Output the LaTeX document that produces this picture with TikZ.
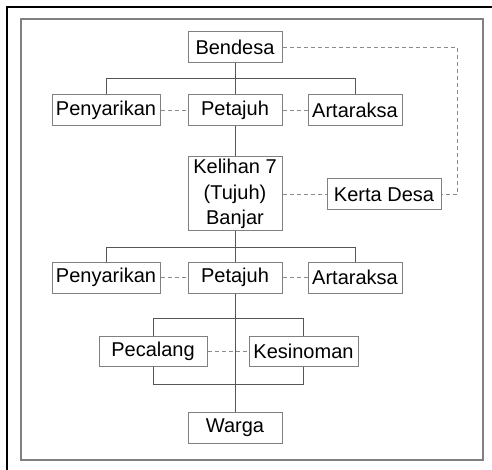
\documentclass[tikz,border=0pt]{standalone}
\usepackage{fontspec}
\setmainfont{Liberation Sans}
\begin{document}
\begin{tikzpicture}[x=1pt,y=-1pt,
  box/.style={draw=boxgray,line width=1pt,rectangle,inner sep=0pt,text=black,
    font=\fontsize{20}{25.5}\selectfont,align=center},
  conn/.style={draw=linegray,line width=1pt},
  dashconn/.style={draw=dashgray,line width=1pt,dash pattern=on 4pt off 3pt}]
\definecolor{boxgray}{HTML}{808080}
\definecolor{linegray}{HTML}{555555}
\definecolor{dashgray}{HTML}{8A8A8A}
\useasboundingbox (0,0) rectangle (492,470);
% frames
\draw[line width=2pt,black] (7,470) -- (7,7) -- (492,7);
\draw[draw=boxgray,line width=1.3pt] (21,19) rectangle (483,460);
% nodes
\node[box,minimum width=94pt,minimum height=31pt] (ben) at (235,47.5) {Bendesa};
\node[box,minimum width=108pt,minimum height=31pt] (pen1) at (106,110.5) {Penyarikan};
\node[box,minimum width=94pt,minimum height=31pt] (pet1) at (235,110.5) {Petajuh};
\node[box,minimum width=94pt,minimum height=31pt] (art1) at (355,110.5) {Artaraksa};
\node[box,minimum width=94pt,minimum height=74pt] (kel) at (235,194) {Kelihan 7\\(Tujuh)\\Banjar};
\node[box,minimum width=114pt,minimum height=31pt] (ker) at (384,194.5) {Kerta Desa};
\node[box,minimum width=108pt,minimum height=31pt] (pen2) at (106,277.5) {Penyarikan};
\node[box,minimum width=94pt,minimum height=31pt] (pet2) at (235,277.5) {Petajuh};
\node[box,minimum width=94pt,minimum height=31pt] (art2) at (355,277.5) {Artaraksa};
\node[box,minimum width=108pt,minimum height=30pt] (pec) at (153,351) {Pecalang};
\node[box,minimum width=109pt,minimum height=30pt] (kes) at (303.5,351) {Kesinoman};
\node[box,minimum width=94pt,minimum height=31pt] (war) at (235,427.5) {Warga};
% helper coordinates
\coordinate (h1) at (235,79);
\coordinate (h2) at (235,247);
\coordinate (b1) at (235,318);
\coordinate (b2) at (235,384);
\coordinate (dk) at (457,47.5);
% solid connectors
\draw[conn] (ben.south) -- (pet1.north);
\draw[conn] (pet1.south) -- (kel.north);
\draw[conn] (kel.south) -- (pet2.north);
\draw[conn] (pet2.south) -- (war.north);
\draw[conn] (pen1.north) -- (pen1.north |- h1) -- (art1.north |- h1) -- (art1.north);
\draw[conn] (pen2.north) -- (pen2.north |- h2) -- (art2.north |- h2) -- (art2.north);
\draw[conn] (pec.north) -- (pec.north |- b1) -- (kes.north |- b1) -- (kes.north);
\draw[conn] (pec.south) -- (pec.south |- b2) -- (kes.south |- b2) -- (kes.south);
% dashed connectors
\draw[dashconn] (pen1.east) -- (pet1.west);
\draw[dashconn] (pet1.east) -- (art1.west);
\draw[dashconn] (pen2.east) -- (pet2.west);
\draw[dashconn] (pet2.east) -- (art2.west);
\draw[dashconn] (pec.east) -- (kes.west);
\draw[dashconn] (kel.east |- ker.west) -- (ker.west);
\draw[dashconn] (ben.east) -- (dk) |- (ker.east);
\end{tikzpicture}
\end{document}
